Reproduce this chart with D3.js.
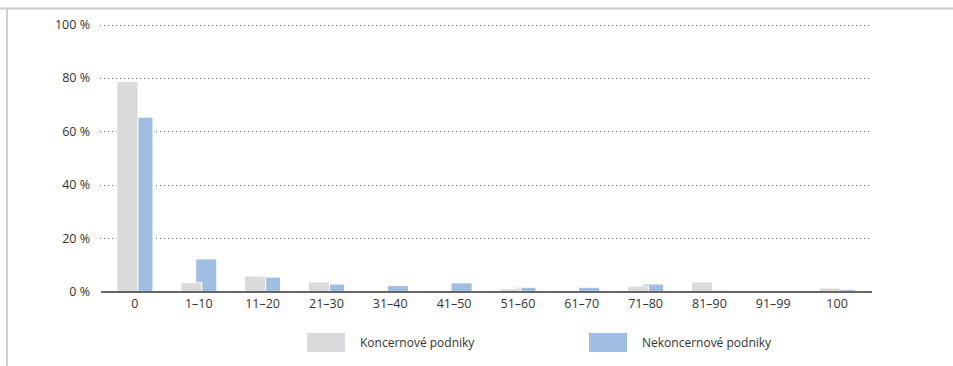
<!DOCTYPE html>
<html><head><meta charset="utf-8">
<script src="https://cdn.jsdelivr.net/npm/d3@7"></script>
<style>
html,body{margin:0;padding:0;background:#fff;}
svg{display:block;font-family:"Open Sans","Noto Sans",sans-serif;}
</style></head>
<body><svg id="c" width="953" height="366"></svg>
<script>
const categories = ["0","1–10","11–20","21–30","31–40","41–50","51–60","61–70","71–80","81–90","91–99","100"];
const seriesNames = ["Koncernové podniky","Nekoncernové podniky"];
const koncern = [78.7,3.3,5.8,3.6,0,0,1.0,0,2.0,3.6,0,1.3];
const nekoncern = [65.3,12.2,5.4,2.8,2.2,3.2,1.6,1.6,2.8,0.5,0,0.7];
const yTicks = [0,20,40,60,80,100];
const colors = ["#d9dadb","#a0bde2"];

const svg = d3.select("#c");
// frame
svg.append("line").attr("x1",0).attr("x2",953).attr("y1",8.5).attr("y2",8.5).attr("stroke","#cfcfcf").attr("stroke-width",2);
svg.append("line").attr("x1",7).attr("x2",7).attr("y1",8).attr("y2",366).attr("stroke","#cfcfcf").attr("stroke-width",2);

const x = d3.scaleBand().domain(categories).range([103,869]).padding(0);
const y = d3.scaleLinear().domain([0,100]).range([291.5,24.5]);
const bw = x.bandwidth();
const barW = bw*0.33;

// grid
const g = svg.append("g");
g.selectAll("line.grid").data(yTicks.filter(d=>d>0)).enter().append("line")
  .attr("x1",100).attr("x2",869).attr("y1",d=>Math.round(y(d))+0.5).attr("y2",d=>Math.round(y(d))+0.5)
  .attr("stroke","#707070").attr("stroke-width",1).attr("stroke-dasharray","1,3");

// y labels
const yAxis = d3.axisLeft(y).tickValues(yTicks).tickSize(0).tickPadding(0).tickFormat(d=>d+" %");
const ya = svg.append("g").attr("transform","translate(90,0)").call(yAxis);
ya.select(".domain").remove();
ya.selectAll("text").attr("font-size",12.5).attr("fill","#333").attr("font-family","'Open Sans','Noto Sans',sans-serif");

// bars: blue behind, grey in front
const cx = d=>x(d)+bw/2;
svg.append("g").selectAll("rect").data(categories).enter().append("rect")
  .attr("x",(d)=>cx(d)-bw*0.047).attr("width",barW)
  .attr("y",(d,i)=>y(nekoncern[i])).attr("height",(d,i)=>y(0)-y(nekoncern[i]))
  .attr("fill",colors[1]).attr("stroke","#fff").attr("stroke-width",1);
svg.append("g").selectAll("rect").data(categories).enter().append("rect")
  .attr("x",(d)=>cx(d)-bw*0.282).attr("width",barW)
  .attr("y",(d,i)=>y(koncern[i])).attr("height",(d,i)=>y(0)-y(koncern[i]))
  .attr("fill",colors[0]).attr("stroke","#fff").attr("stroke-width",1);

// x axis
svg.append("line").attr("x1",101).attr("x2",872).attr("y1",292).attr("y2",292).attr("stroke","#666").attr("stroke-width",2);
const xAxis = d3.axisBottom(x).tickSize(0).tickPadding(0);
const xa = svg.append("g").attr("transform","translate(0,299.5)").call(xAxis);
xa.select(".domain").remove();
xa.selectAll("text").attr("font-size",12.5).attr("fill","#333").attr("dy","0.71em").attr("font-family","'Open Sans','Noto Sans',sans-serif");

// legend
const legX = [307,589];
const lg = svg.append("g").selectAll("g").data(seriesNames).enter().append("g")
  .attr("transform",(d,i)=>`translate(${legX[i]},333)`);
lg.append("rect").attr("width",38).attr("height",19).attr("fill",(d,i)=>colors[i]);
lg.append("text").attr("x",53).attr("y",13.5).attr("font-size",12).attr("fill","#333").text(d=>d);
</script></body></html>
